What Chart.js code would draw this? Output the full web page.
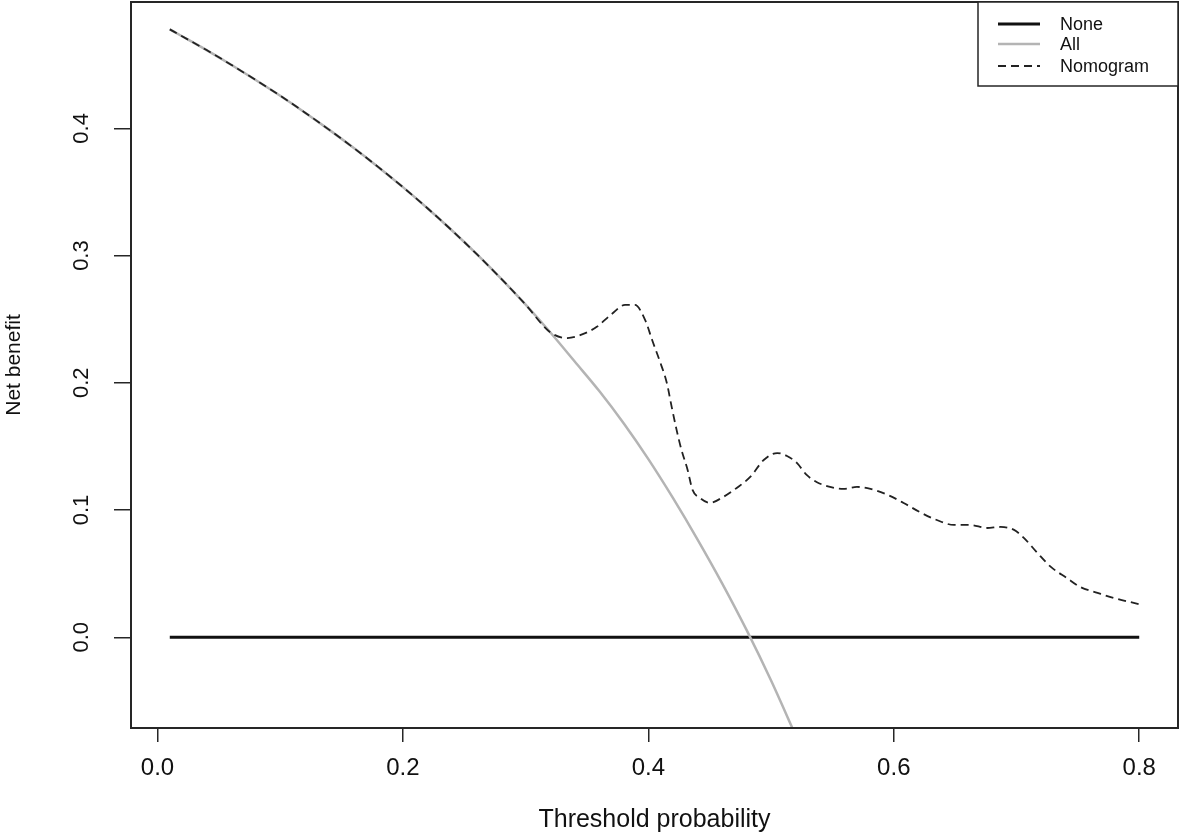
<!DOCTYPE html>
<html lang="en">
<head>
    <meta charset="UTF-8">
    <title>Decision curve</title>
    <script src="https://cdn.jsdelivr.net/npm/chart.js"></script>
    <style>
        body { margin: 0; background: #fff; }
        #dcaChart { display: block; }
    </style>
</head>
<body>
    <canvas id="dcaChart" width="1181" height="836"></canvas>

    <script>
        // tick labels
        const xTicks = [0, 0.2, 0.4, 0.6, 0.8];
        const yTicks = [0, 0.1, 0.2, 0.3, 0.4];

        // "None" reference line
        const noneX = [0.01, 0.8];
        const noneY = [0, 0];

        // "All" (treat everyone)
        const allX = [0.01, 0.02, 0.04, 0.06, 0.08, 0.10, 0.12, 0.14, 0.16, 0.18, 0.20, 0.22, 0.24, 0.26,
                      0.28, 0.30, 0.32, 0.34, 0.36, 0.38, 0.40, 0.42, 0.44, 0.46, 0.48, 0.50, 0.52];
        const allY = [0.4778, 0.4724, 0.4615, 0.4500, 0.4380, 0.4256, 0.4125, 0.3988, 0.3845, 0.3695, 0.3538,
                      0.3372, 0.3197, 0.3013, 0.2819, 0.2614, 0.2397, 0.2167, 0.1935, 0.1680, 0.1400, 0.1095,
                      0.0770, 0.0426, 0.0058, -0.0340, -0.0771];

        // Nomogram
        const nomoX = [0.01, 0.02, 0.04, 0.06, 0.08, 0.10, 0.12, 0.14, 0.16, 0.18, 0.20, 0.22, 0.24, 0.26,
                       0.28, 0.30, 0.32, 0.334, 0.346, 0.358, 0.370, 0.381, 0.389, 0.398, 0.403, 0.409,
                       0.415, 0.419, 0.423, 0.427, 0.432, 0.436, 0.442, 0.450, 0.461, 0.472, 0.483, 0.494,
                       0.505, 0.513, 0.521, 0.529, 0.537, 0.548, 0.559, 0.570, 0.581, 0.595, 0.608, 0.621,
                       0.635, 0.649, 0.662, 0.676, 0.687, 0.698, 0.706, 0.717, 0.728, 0.741, 0.752, 0.766,
                       0.779, 0.800];
        const nomoY = [0.4778, 0.4724, 0.4615, 0.4500, 0.4380, 0.4256, 0.4125, 0.3988, 0.3845, 0.3695, 0.3538,
                       0.3372, 0.3197, 0.3013, 0.2819, 0.2614, 0.2397, 0.2352, 0.2380, 0.2440, 0.2540, 0.2612,
                       0.2612, 0.2479, 0.2338, 0.2179, 0.2000, 0.1811, 0.1630, 0.1472, 0.1315, 0.1158, 0.1095,
                       0.1056, 0.1103, 0.1174, 0.1260, 0.1393, 0.1448, 0.1425, 0.1370, 0.1276, 0.1221, 0.1182,
                       0.1166, 0.1182, 0.1166, 0.1119, 0.1056, 0.0985, 0.0922, 0.0883, 0.0883, 0.0859, 0.0867,
                       0.0844, 0.0781, 0.0663, 0.0553, 0.0466, 0.0395, 0.0349, 0.0309, 0.0260];

        const pairs = (xs, ys) => xs.map((x, i) => ({ x: x, y: ys[i] }));
        const FONT = "'Liberation Sans', Arial, sans-serif";

        // box around the plot region, R style
        const boxPlugin = {
            id: 'box',
            afterDatasetsDraw(chart) {
                const a = chart.chartArea, ctx = chart.ctx;
                ctx.save();
                ctx.strokeStyle = '#262626';
                ctx.lineWidth = 2;
                ctx.strokeRect(a.left, a.top, a.right - a.left, a.bottom - a.top);
                ctx.restore();
            }
        };

        // legend box in the top-right corner
        const legendBox = {
            id: 'legendBox',
            afterDraw(chart) {
                const a = chart.chartArea, ctx = chart.ctx;
                const w = 200, h = 84;
                const left = a.right - w, top = a.top;
                ctx.save();
                ctx.fillStyle = '#fff';
                ctx.fillRect(left, top, w, h);
                ctx.strokeStyle = '#262626';
                ctx.lineWidth = 1.5;
                ctx.strokeRect(left, top, w, h);
                ctx.font = '18px ' + FONT;
                ctx.textBaseline = 'middle';
                const rows = [22, 42, 64];
                chart.data.datasets.forEach((ds, i) => {
                    const y = top + rows[i];
                    ctx.strokeStyle = ds.borderColor;
                    ctx.lineWidth = ds.borderWidth;
                    ctx.setLineDash(ds.borderDash || []);
                    ctx.beginPath();
                    ctx.moveTo(left + 20, y);
                    ctx.lineTo(left + 62, y);
                    ctx.stroke();
                    ctx.setLineDash([]);
                    ctx.fillStyle = '#111';
                    ctx.fillText(ds.label, left + 82, y + 1);
                });
                ctx.restore();
            }
        };

        const ctx = document.getElementById('dcaChart').getContext('2d');
        new Chart(ctx, {
            type: 'line',
            data: {
                datasets: [
                    {
                        label: 'None',
                        data: pairs(noneX, noneY),
                        borderColor: '#111',
                        borderWidth: 3,
                        pointRadius: 0,
                        order: 3
                    },
                    {
                        label: 'All',
                        data: pairs(allX, allY),
                        borderColor: '#b4b4b4',
                        borderWidth: 2.5,
                        pointRadius: 0,
                        cubicInterpolationMode: 'monotone',
                        order: 2
                    },
                    {
                        label: 'Nomogram',
                        data: pairs(nomoX, nomoY),
                        borderColor: '#222',
                        borderWidth: 1.8,
                        borderDash: [8, 5],
                        pointRadius: 0,
                        cubicInterpolationMode: 'monotone',
                        order: 1
                    }
                ]
            },
            options: {
                responsive: false,
                animation: false,
                events: [],
                layout: { padding: { top: 2, right: 3, left: 0, bottom: 0 } },
                plugins: {
                    legend: { display: false },
                    tooltip: { enabled: false }
                },
                scales: {
                    x: {
                        type: 'linear',
                        min: -0.0216,
                        max: 0.8316,
                        afterBuildTicks: s => { s.ticks = xTicks.map(v => ({ value: v })); },
                        afterFit: s => { s.height = 108; s.paddingLeft = 0; s.paddingRight = 0; },
                        grid: { drawOnChartArea: false, tickLength: 14, color: '#262626', lineWidth: 1.5 },
                        border: { display: false },
                        ticks: {
                            color: '#111',
                            padding: 12,
                            maxRotation: 0,
                            font: { family: FONT, size: 24 },
                            callback: v => v.toFixed(1)
                        },
                        title: {
                            display: true,
                            text: 'Threshold probability',
                            color: '#111',
                            padding: { top: 0, bottom: 1 },
                            font: { family: FONT, size: 25 }
                        }
                    },
                    y: {
                        type: 'linear',
                        min: -0.0713,
                        max: 0.4993,
                        afterBuildTicks: s => { s.ticks = yTicks.map(v => ({ value: v })); },
                        afterFit: s => { s.width = 131; s.paddingTop = 0; s.paddingBottom = 0; },
                        grid: { drawOnChartArea: false, tickLength: 17, color: '#262626', lineWidth: 1.5 },
                        border: { display: false },
                        ticks: {
                            color: '#111',
                            padding: 17,
                            minRotation: 90,
                            maxRotation: 90,
                            crossAlign: 'center',
                            font: { family: FONT, size: 22 },
                            callback: v => v.toFixed(1)
                        },
                        title: {
                            display: true,
                            text: 'Net benefit',
                            color: '#111',
                            padding: { top: 2, bottom: 0 },
                            font: { family: FONT, size: 21 }
                        }
                    }
                }
            },
            plugins: [boxPlugin, legendBox]
        });
    </script>
</body>
</html>
